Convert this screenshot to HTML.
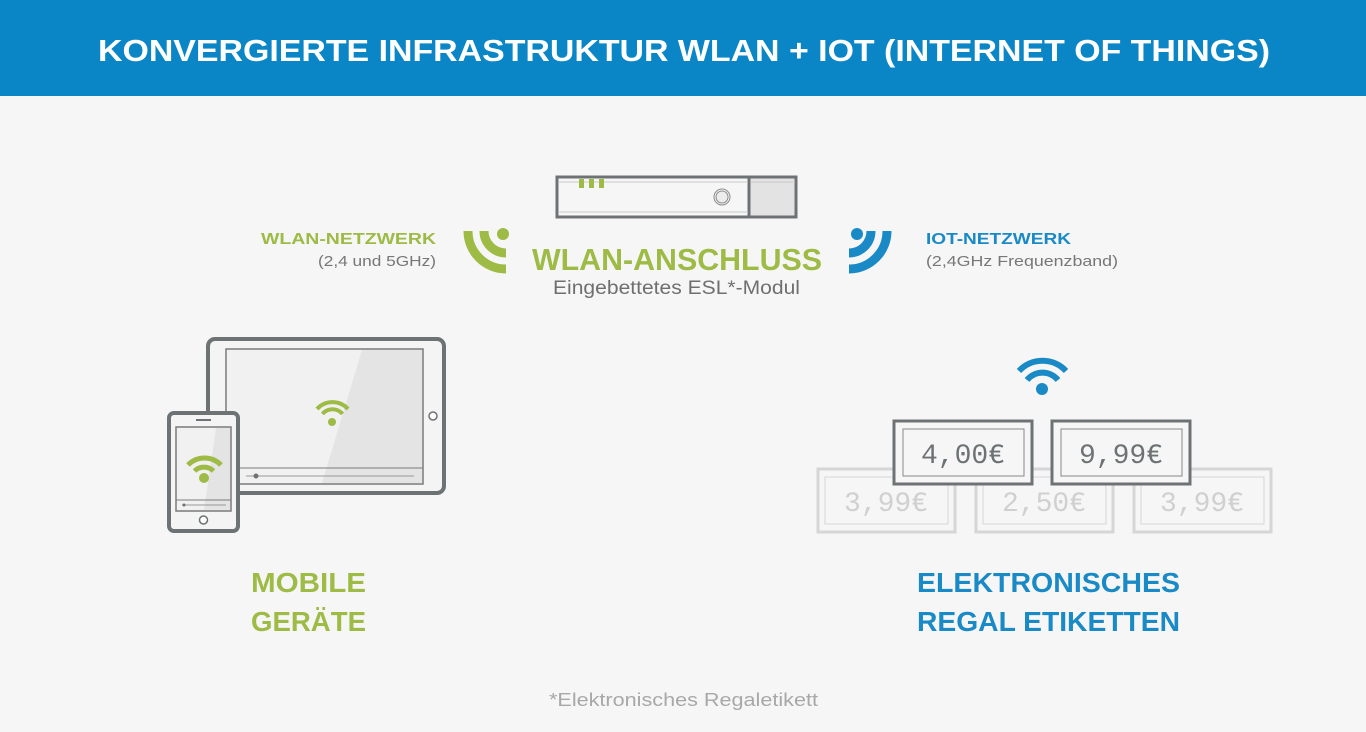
<!DOCTYPE html>
<html><head><meta charset="utf-8"><style>
html,body{margin:0;padding:0;width:1366px;height:732px;overflow:hidden;background:#f6f6f6;font-family:"Liberation Sans",sans-serif}
</style></head><body>
<svg width="1366" height="732" viewBox="0 0 1366 732" xmlns="http://www.w3.org/2000/svg" font-family="Liberation Sans, sans-serif">
<rect width="1366" height="732" fill="#f6f6f6"/>
<rect width="1366" height="96" fill="#0a86c6"/>
<text x="98" y="61" fill="#fff" font-size="31" font-weight="bold" textLength="1172" lengthAdjust="spacingAndGlyphs">KONVERGIERTE INFRASTRUKTUR WLAN + IOT (INTERNET OF THINGS)</text>

<!-- router -->
<rect x="749" y="177" width="47" height="40" fill="#e3e3e3"/>
<rect x="557" y="177" width="239" height="40" fill="none" stroke="#6d7275" stroke-width="3"/>
<line x1="749" y1="177" x2="749" y2="217" stroke="#6d7275" stroke-width="3"/>
<line x1="558" y1="182" x2="748" y2="182" stroke="#c8c8c8" stroke-width="1"/>
<line x1="558" y1="212" x2="748" y2="212" stroke="#c8c8c8" stroke-width="1"/>
<line x1="751" y1="182" x2="795" y2="182" stroke="#c8c8c8" stroke-width="1"/>
<rect x="579" y="179" width="5" height="9" fill="#9dbb45"/>
<rect x="589" y="179" width="5" height="9" fill="#9dbb45"/>
<rect x="599" y="179" width="5" height="9" fill="#9dbb45"/>
<circle cx="722" cy="197" r="8" fill="none" stroke="#8a8a8a" stroke-width="1"/>
<circle cx="722" cy="197" r="6" fill="#ececec" stroke="#8a8a8a" stroke-width="1"/>

<!-- green signal -->
<g fill="none" stroke="#9dbb45" stroke-width="9">
<path d="M468 231 A38 38 0 0 0 506 269"/>
<path d="M484 231 A22 22 0 0 0 506 253"/>
</g>
<circle cx="503" cy="234" r="6" fill="#9dbb45"/>
<!-- blue signal -->
<g fill="none" stroke="#1a8ac6" stroke-width="9">
<path d="M887 231 A38 38 0 0 1 849 269"/>
<path d="M871 231 A22 22 0 0 1 849 253"/>
</g>
<circle cx="857" cy="234" r="6" fill="#1a8ac6"/>

<text x="532" y="270" fill="#9dbb45" font-size="31" font-weight="bold" textLength="290" lengthAdjust="spacingAndGlyphs">WLAN-ANSCHLUSS</text>
<text x="553" y="294" fill="#6f6f6f" font-size="19" textLength="247" lengthAdjust="spacingAndGlyphs">Eingebettetes ESL*-Modul</text>
<text x="261" y="244" fill="#9dbb45" font-size="16" font-weight="bold" textLength="175" lengthAdjust="spacingAndGlyphs">WLAN-NETZWERK</text>
<text x="318" y="266" fill="#777" font-size="15" textLength="118" lengthAdjust="spacingAndGlyphs">(2,4 und 5GHz)</text>
<text x="926" y="244" fill="#1a8ac6" font-size="16" font-weight="bold" textLength="145" lengthAdjust="spacingAndGlyphs">IOT-NETZWERK</text>
<text x="926" y="266" fill="#777" font-size="15" textLength="192" lengthAdjust="spacingAndGlyphs">(2,4GHz Frequenzband)</text>

<!-- tablet -->
<rect x="208" y="339" width="236" height="154" rx="7" fill="#f4f4f4" stroke="#6d7275" stroke-width="4"/>
<rect x="226" y="349" width="197" height="135" fill="#f1f1f1" stroke="#7a7a7a" stroke-width="1.5"/>
<polygon points="362,350 422,350 422,483 322,483" fill="#e4e4e4"/>
<line x1="226" y1="468" x2="423" y2="468" stroke="#7a7a7a" stroke-width="1"/>
<line x1="246" y1="476" x2="414" y2="476" stroke="#999" stroke-width="1"/>
<circle cx="256" cy="476" r="2.5" fill="#6d7275"/>
<circle cx="433" cy="416" r="4" fill="#fff" stroke="#6d7275" stroke-width="1.5"/>
<g fill="none" stroke="#9dbb45" stroke-width="4">
<path d="M317 409 A21 21 0 0 1 348 409"/>
<path d="M322.5 414 A13 13 0 0 1 342.5 414"/>
</g>
<circle cx="332" cy="422" r="4" fill="#9dbb45"/>

<!-- phone -->
<rect x="169" y="413" width="69" height="118" rx="5" fill="#f4f4f4" stroke="#6d7275" stroke-width="4"/>
<rect x="176" y="427" width="55" height="84" fill="#f1f1f1" stroke="#7a7a7a" stroke-width="1.5"/>
<polygon points="216,428 230,428 230,510 204,510" fill="#e4e4e4"/>
<line x1="176" y1="500" x2="231" y2="500" stroke="#7a7a7a" stroke-width="1"/>
<line x1="182" y1="505" x2="226" y2="505" stroke="#999" stroke-width="1"/>
<circle cx="184" cy="505" r="1.5" fill="#6d7275"/>
<line x1="196" y1="420" x2="211" y2="420" stroke="#6d7275" stroke-width="2"/>
<circle cx="203.5" cy="520" r="4" fill="#fff" stroke="#6d7275" stroke-width="1.5"/>
<g fill="none" stroke="#9dbb45" stroke-width="5">
<path d="M188 465 A23 23 0 0 1 221 465"/>
<path d="M194.5 471 A13.5 13.5 0 0 1 213.5 471"/>
</g>
<circle cx="204" cy="478" r="5" fill="#9dbb45"/>

<!-- ESL wifi -->
<g fill="none" stroke="#1a8ac6" stroke-width="6">
<path d="M1019 371 A32 32 0 0 1 1066 371"/>
<path d="M1027 380 A20 20 0 0 1 1058 380"/>
</g>
<circle cx="1042" cy="389" r="6" fill="#1a8ac6"/>

<!-- back tags -->
<g fill="none" stroke="#d6d6d6">
<rect x="818" y="469" width="137" height="63" stroke-width="3"/>
<rect x="825" y="477" width="123" height="47" stroke-width="1"/>
<rect x="976" y="469" width="137" height="63" stroke-width="3"/>
<rect x="983" y="477" width="123" height="47" stroke-width="1"/>
<rect x="1134" y="469" width="137" height="63" stroke-width="3"/>
<rect x="1141" y="477" width="123" height="47" stroke-width="1"/>
</g>
<g fill="#d0d0d0" font-size="28" text-anchor="middle" font-family="Liberation Mono, monospace">
<text x="886" y="511">3,99€</text>
<text x="1044" y="511">2,50€</text>
<text x="1202" y="511">3,99€</text>
</g>
<!-- front tags -->
<rect x="894" y="421" width="138" height="63" fill="#f6f6f6" stroke="#6d7275" stroke-width="3"/>
<rect x="903" y="429" width="121" height="47" fill="none" stroke="#888" stroke-width="1"/>
<rect x="1052" y="421" width="138" height="63" fill="#f6f6f6" stroke="#6d7275" stroke-width="3"/>
<rect x="1061" y="429" width="121" height="47" fill="none" stroke="#888" stroke-width="1"/>
<g fill="#6d7275" font-size="28" text-anchor="middle" font-family="Liberation Mono, monospace">
<text x="963" y="463">4,00€</text>
<text x="1121" y="463">9,99€</text>
</g>

<g font-size="28" font-weight="bold">
<text x="251" y="592" fill="#9dbb45" textLength="115" lengthAdjust="spacingAndGlyphs">MOBILE</text>
<text x="251" y="631" fill="#9dbb45" textLength="115" lengthAdjust="spacingAndGlyphs">GERÄTE</text>
<text x="917" y="592" fill="#1a8ac6" textLength="263" lengthAdjust="spacingAndGlyphs">ELEKTRONISCHES</text>
<text x="917" y="631" fill="#1a8ac6" textLength="263" lengthAdjust="spacingAndGlyphs">REGAL ETIKETTEN</text>
</g>
<text x="549" y="706" fill="#a8a8a8" font-size="18" textLength="269" lengthAdjust="spacingAndGlyphs">*Elektronisches Regaletikett</text>
</svg>
</body></html>
